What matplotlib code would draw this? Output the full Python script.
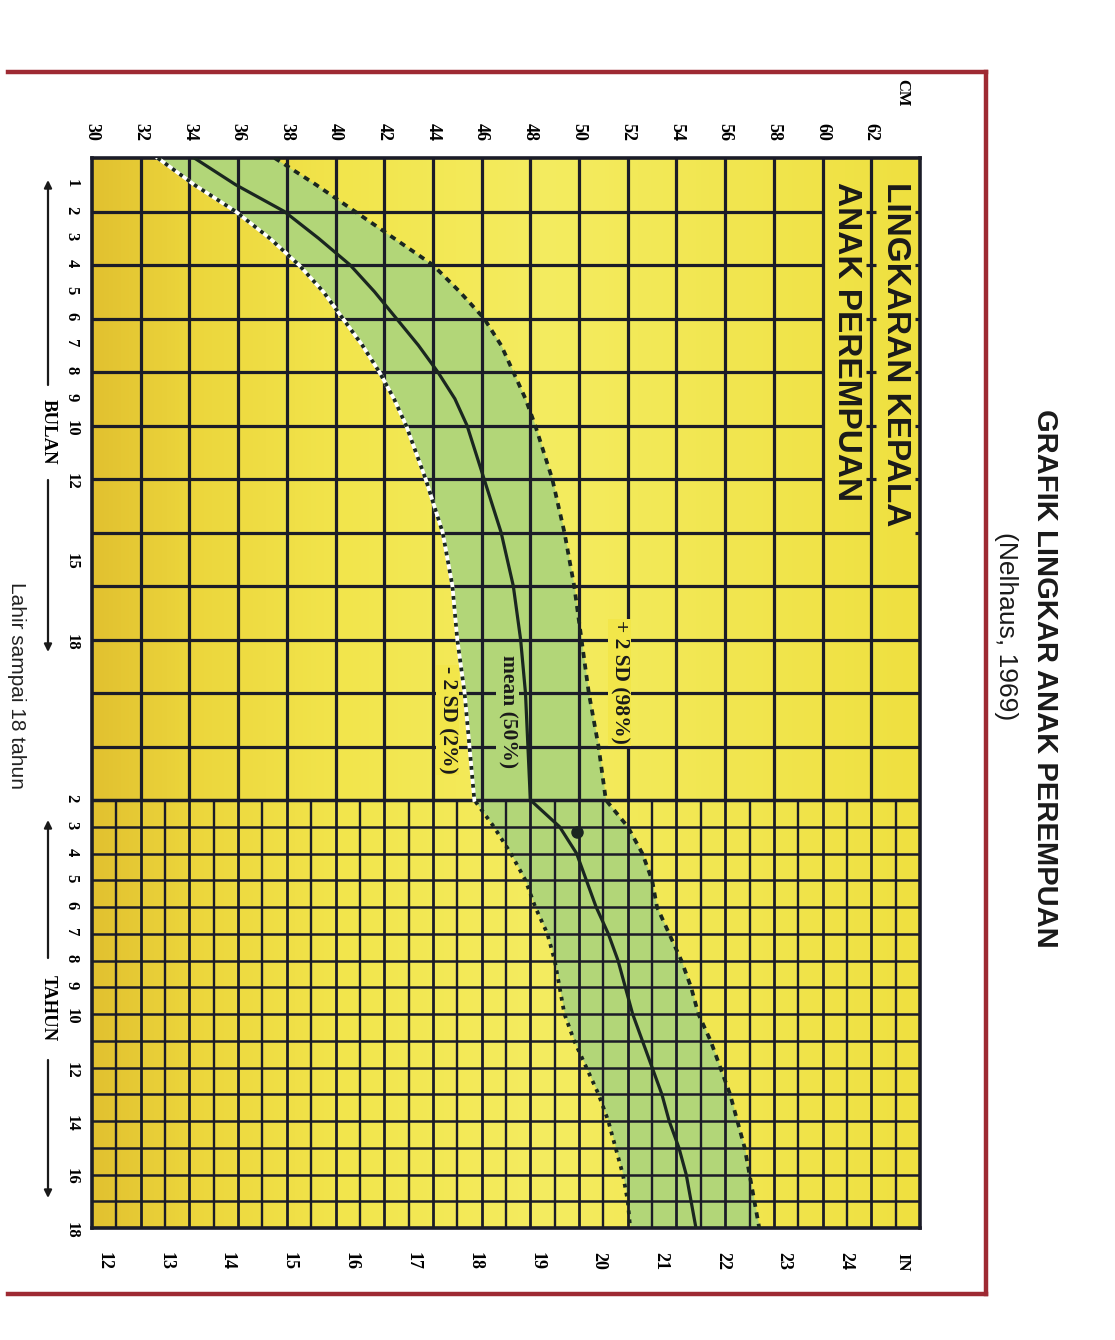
import matplotlib.pyplot as plt
import numpy as np
from matplotlib.lines import Line2D
from matplotlib.colors import LinearSegmentedColormap

W, H = 1115, 1340

# ages: months up to 22, then whole years
age_months = [0, 1, 2, 3, 4, 5, 6, 7, 8, 9, 10, 12, 14, 16, 18, 20, 22]
age_years = [2, 3, 4, 5, 6, 7, 8, 9, 10, 11, 12, 13, 14, 15, 16, 17, 18]

# head circumference in cm
mean_months = [34.2, 35.9, 37.9, 39.3, 40.6, 41.6, 42.5, 43.4, 44.2, 44.9, 45.4, 46.1, 46.8, 47.3, 47.6, 47.8, 47.9]
mean_years = [48.0, 49.2, 49.9, 50.3, 50.7, 51.2, 51.6, 51.9, 52.2, 52.6, 53.0, 53.4, 53.7, 54.1, 54.4, 54.6, 54.8]
lo_months = [32.7, 34.2, 35.9, 37.3, 38.5, 39.5, 40.3, 41.1, 41.8, 42.4, 42.9, 43.7, 44.4, 44.8, 45.0, 45.3, 45.5]
lo_years = [45.7, 46.5, 47.2, 47.8, 48.2, 48.7, 49.0, 49.2, 49.4, 49.8, 50.3, 50.8, 51.2, 51.5, 51.8, 52.0, 52.1]
hi_months = [37.5, 39.2, 40.8, 42.4, 44.0, 45.1, 46.1, 46.8, 47.3, 47.8, 48.2, 48.9, 49.4, 49.8, 50.1, 50.4, 50.8]
hi_years = [51.1, 52.0, 52.6, 53.0, 53.2, 53.7, 54.2, 54.6, 54.9, 55.4, 55.8, 56.2, 56.5, 56.8, 57.0, 57.2, 57.4]

# single plotted measurement
point_age_years = 3.2
point_cm = 49.9

cm_ticks = list(range(30, 63, 2))
inch_ticks = list(range(12, 25))
month_ticks = [1, 2, 3, 4, 5, 6, 7, 8, 9, 10, 12, 15, 18]
year_ticks = [2, 3, 4, 5, 6, 7, 8, 9, 10, 12, 14, 16, 18]

GRID = "#1b1c28"
YELLOW = "#f2e64a"
GREEN = "#b2d678"
DARK = "#1a2620"
RED = "#9e2a33"
SERIF = ["Liberation Serif", "DejaVu Serif"]
NARROW = ["Liberation Sans Narrow", "Liberation Sans", "DejaVu Sans"]


def month_pos(m):
    return m


def year_pos(y):
    return 24 + (y - 2)


def fx(x):
    return x / W


def fy(y):
    return 1 - y / H


pos_all = [month_pos(m) for m in age_months] + [year_pos(y) for y in age_years]
mean_all = mean_months + mean_years
lo_all = lo_months + lo_years
hi_all = hi_months + hi_years

fig = plt.figure(figsize=(W / 100, H / 100), dpi=100)
fig.patch.set_facecolor("white")
ax = fig.add_axes([fx(92), fy(1228), fx(920) - fx(92), fy(158) - fy(1228)])
ax.set_xlim(30, 64)
ax.set_ylim(40, 0)

# yellow paper, a bit more golden on the left
paper = LinearSegmentedColormap.from_list(
    "paper", [(0, "#e2c130"), (0.12, "#ecd63c"), (0.3, "#f2e54c"),
              (0.55, "#f4ec60"), (1, "#efe040")])
ax.imshow(np.linspace(0, 1, 200).reshape(1, -1), extent=(30, 64, 40, 0),
          aspect="auto", cmap=paper, zorder=0)

ax.fill_betweenx(pos_all, lo_all, hi_all, color=GREEN, lw=0, zorder=1)

# coarse grid for the months
for c in range(32, 64, 2):
    ax.vlines(c, 0, 24, color=GRID, lw=2.3, zorder=2)
for m in range(2, 24, 2):
    xmax = 60 if m <= 12 else (62 if m == 14 else 64)
    ax.hlines(m, 30, xmax, color=GRID, lw=2.3, zorder=2)
    if m <= 12:
        ax.hlines(m, 61.8, 62.2, color=GRID, lw=2.3, zorder=2)
    if m <= 14:
        ax.hlines(m, 63.8, 64, color=GRID, lw=2.3, zorder=2)
ax.hlines(24, 30, 64, color=GRID, lw=2.5, zorder=2)

# fine grid for the years
for c in range(31, 64):
    ax.vlines(c, 24, 40, color=GRID, lw=2.0 if c % 2 == 0 else 1.7, zorder=2)
for p in range(25, 40):
    ax.hlines(p, 30, 64, color=GRID, lw=1.8, zorder=2)

for s in ax.spines.values():
    s.set_linewidth(2.6)
    s.set_color(GRID)
    s.set_zorder(3)

# curves
ax.plot(mean_all, pos_all, color=DARK, lw=2.3, zorder=4, solid_capstyle="round")
ax.plot(hi_all, pos_all, color=DARK, lw=2.7, ls=(0, (1.6, 1.5)), zorder=4)
ax.plot(lo_months + [lo_years[0]], [month_pos(m) for m in age_months] + [24],
        color="white", lw=2.7, zorder=4)
ax.plot(lo_all, pos_all, color=DARK, lw=2.7, ls=(0, (1.0, 1.4)), zorder=4)
ax.plot(point_cm, year_pos(point_age_years), "o", color=DARK, ms=8, zorder=5)

# curve labels
lab = dict(rotation=-90, ha="center", va="center", fontsize=15.5,
           fontweight="bold", family=SERIF, color="#1a1a1a", zorder=6)
ax.text(44.6, 21.0, "- 2 SD (2%)",
        bbox=dict(facecolor=YELLOW, edgecolor="none", pad=1.0), **lab)
ax.text(47.05, 20.7, "mean (50%)",
        bbox=dict(facecolor=GREEN, edgecolor="none", pad=1.0), **lab)
ax.text(51.65, 19.6, "+ 2 SD (98%)",
        bbox=dict(facecolor=YELLOW, edgecolor="none", pad=1.0), **lab)

# box titles inside the chart
ax.text(63.0, 0.9, "LINGKARAN KEPALA", rotation=-90, ha="center", va="top",
        fontsize=24, fontweight="bold", family=NARROW, color="#1a1a1a", zorder=6)
ax.text(61.0, 0.9, "ANAK PEREMPUAN", rotation=-90, ha="center", va="top",
        fontsize=24, fontweight="bold", family=NARROW, color="#1a1a1a", zorder=6)

# ticks: cm on top, age on the left, inches at the bottom
ax.xaxis.tick_top()
ax.set_xticks(cm_ticks)
ax.set_xticklabels([str(c) for c in cm_ticks], rotation=-90, fontsize=13,
                   fontweight="bold", family=SERIF)
ax.tick_params(axis="x", length=0, pad=12)

ypos = [month_pos(m) for m in month_ticks] + [year_pos(y) for y in year_ticks[1:]]
ylab = [str(m) for m in month_ticks] + [str(y) for y in year_ticks[1:]]
ypos.insert(len(month_ticks), year_pos(2))
ylab.insert(len(month_ticks), "2")
ax.set_yticks(ypos)
ax.set_yticklabels(ylab, rotation=-90, fontsize=12, fontweight="bold", family=SERIF)
ax.tick_params(axis="y", length=0, pad=9)

sec = ax.secondary_xaxis("bottom", functions=(lambda c: c / 2.54, lambda i: i * 2.54))
sec.set_xticks(inch_ticks)
sec.set_xticklabels([str(i) for i in inch_ticks], rotation=-90, fontsize=13,
                    fontweight="bold", family=SERIF)
sec.tick_params(axis="x", length=0, pad=17)
sec.spines["bottom"].set_visible(False)

fig.text(fx(902), fy(93), "CM", rotation=-90, ha="center", va="center",
         fontsize=12, fontweight="bold", family=SERIF)
fig.text(fx(902), fy(1262), "IN", rotation=-90, ha="center", va="center",
         fontsize=12, fontweight="bold", family=SERIF)

# axis words with arrows
fig.text(fx(48), fy(432), "BULAN", rotation=-90, ha="center", va="center",
         fontsize=13.5, fontweight="bold", family=SERIF)
fig.text(fx(48), fy(1008), "TAHUN", rotation=-90, ha="center", va="center",
         fontsize=13.5, fontweight="bold", family=SERIF)
arrows = [((48, 385), (48, 180)), ((48, 480), (48, 652)),
          ((48, 958), (48, 820)), ((48, 1060), (48, 1198))]
for (x0, y0), (x1, y1) in arrows:
    ax.annotate("", xy=(fx(x1), fy(y1)), xytext=(fx(x0), fy(y0)),
                xycoords="figure fraction", textcoords="figure fraction",
                annotation_clip=False,
                arrowprops=dict(arrowstyle="-|>", color="#1a1a1a", lw=1.6,
                                mutation_scale=11, shrinkA=0, shrinkB=0))

fig.text(fx(16), fy(685), "Lahir sampai 18 tahun", rotation=-90, ha="center",
         va="center", fontsize=15, family=NARROW, color="#222222")

# page title outside the frame
fig.text(fx(1045), fy(678), "GRAFIK LINGKAR ANAK PEREMPUAN", rotation=-90,
         ha="center", va="center", fontsize=21, fontweight="bold", family=NARROW,
         color="#1a1a1a")
fig.text(fx(1006), fy(626), "(Nelhaus, 1969)", rotation=-90, ha="center",
         va="center", fontsize=19, family=NARROW, color="#1a1a1a")

# red frame
for xs, ys in [([8, 986], [72, 72]), ([8, 986], [1294, 1294]), ([986, 986], [72, 1294])]:
    fig.add_artist(Line2D([fx(v) for v in xs], [fy(v) for v in ys], color=RED,
                          lw=3.2, transform=fig.transFigure))

fig.savefig("out.png", dpi=100)
